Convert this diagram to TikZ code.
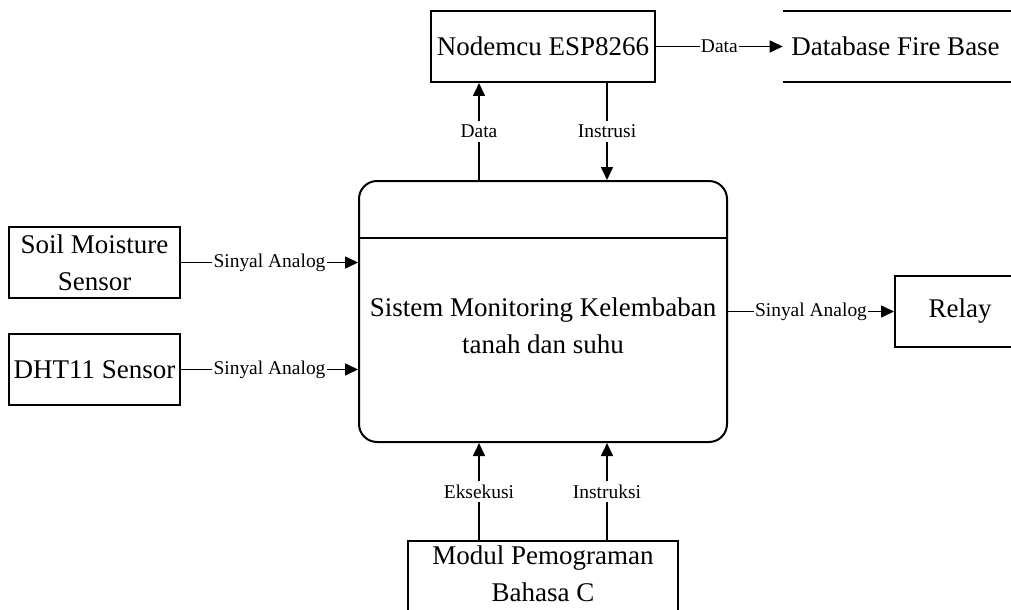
\documentclass[tikz,border=0pt]{standalone}
\usepackage{fontspec}
\setmainfont{Liberation Serif}
\usetikzlibrary{arrows.meta,calc}
\begin{document}
\begin{tikzpicture}[x=0.75pt,y=-0.75pt,
  box/.style={draw,line width=1.5pt,align=center,inner sep=0pt,
    font=\fontsize{20.25}{28}\selectfont},
  bigtxt/.style={align=center,inner sep=0pt,font=\fontsize{20.25}{28}\selectfont},
  arr/.style={line width=1.2pt,-{Triangle[length=9.75pt,width=9pt]}},
  lbl/.style={fill=white,inner xsep=1pt,inner ysep=3pt,font=\fontsize{14.6}{17}\selectfont}]
\useasboundingbox (0,0) rectangle (1011,610);
\clip (0,0) rectangle (1011,610);

% nodes
\node[box,minimum width=168pt,minimum height=53.25pt] (nodemcu) at (543,46.5) {Nodemcu ESP8266};
\node[bigtxt,minimum width=168.75pt,minimum height=53.25pt] (db) at (895.5,46.5) {Database Fire Base};
\draw[line width=1.5pt] (db.north west) -- ++(240,0);
\draw[line width=1.5pt] (db.south west) -- ++(240,0);

\node[draw,line width=1.5pt,rounded corners=13.5pt,minimum width=276pt,minimum height=195.75pt,inner sep=0pt] (main) at (543,311.5) {};
\draw[line width=1.5pt] (main.west |- 0,238) coordinate (divl) -- (divl -| main.east);
\node[bigtxt] (maintext) at (543,325.5) {Sistem Monitoring Kelembaban\\tanah dan suhu};

\node[box,minimum width=128.25pt,minimum height=53.25pt] (soil) at (94.5,262.5) {Soil Moisture\\Sensor};
\node[box,minimum width=128.25pt,minimum height=53.25pt] (dht) at (94.5,369.5) {DHT11 Sensor};
\node[box,minimum width=97.5pt,minimum height=53.25pt] (relay) at (960,311.5) {Relay};
\node[box,minimum width=202.5pt,minimum height=55.5pt] (modul) at (543,578) {};
\node[bigtxt] (modultext) at (543,573.5) {Modul Pemograman\\Bahasa C};

% connectors
\draw[arr] (nodemcu.east) -- (db.west) node[midway,lbl,inner ysep=1pt] {Data};
\draw[arr] (soil.east) -- (soil.east -| main.west) node[midway,lbl,inner ysep=1pt] {Sinyal Analog};
\draw[arr] (dht.east) -- (dht.east -| main.west) node[midway,lbl,inner ysep=1pt] {Sinyal Analog};
\draw[arr] (main.east) -- (relay.west) node[midway,lbl,inner ysep=1pt] {Sinyal Analog};

\draw[arr] ([xshift=-48pt]main.north) -- ([xshift=-48pt]main.north |- nodemcu.south) node[midway,lbl] {Data};
\draw[arr] ([xshift=48pt]main.north |- nodemcu.south) -- ([xshift=48pt]main.north) node[midway,lbl] {Instrusi};
\draw[arr] ([xshift=-48pt]modul.north) -- ([xshift=-48pt]main.south) node[midway,lbl] {Eksekusi};
\draw[arr] ([xshift=48pt]modul.north) -- ([xshift=48pt]main.south) node[midway,lbl] {Instruksi};
\end{tikzpicture}
\end{document}
